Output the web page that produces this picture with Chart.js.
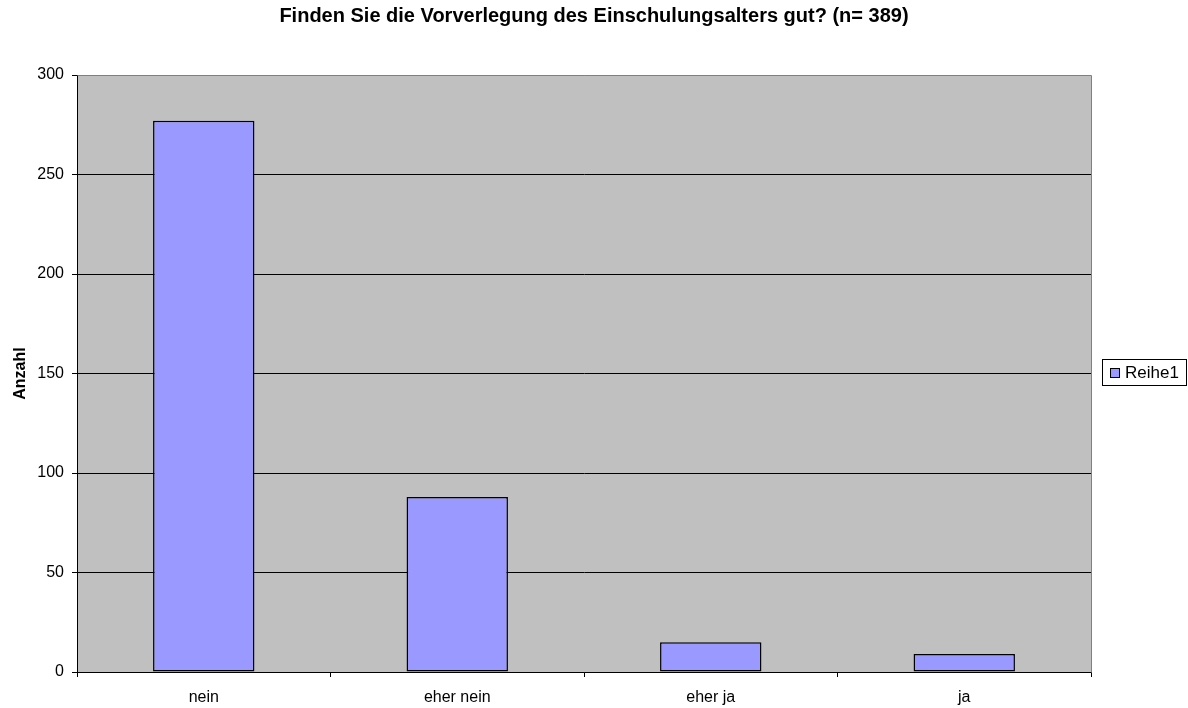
<!DOCTYPE html>
<html>
<head>
<meta charset="utf-8">
<script src="https://cdn.jsdelivr.net/npm/chart.js@4/dist/chart.umd.min.js"></script>
<style>
  html, body { margin: 0; padding: 0; background: #fff; }
  #wrap { width: 1188px; height: 708px; }
</style>
</head>
<body>
<div id="wrap"><canvas id="umfrageChart" width="1188" height="708"></canvas></div>
<script>
// Daten aus der Grafik
const kategorien = ['nein', 'eher nein', 'eher ja', 'ja'];
const anzahl = [277, 88, 15, 9];
const reiheName = 'Reihe1';
const yTicks = [0, 50, 100, 150, 200, 250, 300];

const schrift = "'Liberation Sans', Arial, sans-serif";

// Hintergrund der Zeichenfläche + grauer Rahmen oben/rechts
const plotFlaeche = {
  id: 'plotFlaeche',
  beforeDraw(chart) {
    const a = chart.chartArea;
    const ctx = chart.ctx;
    ctx.save();
    ctx.fillStyle = '#c0c0c0';
    ctx.fillRect(a.left, a.top, a.right - a.left, a.bottom - a.top);
    ctx.restore();
  },
  beforeDatasetsDraw(chart) {
    const a = chart.chartArea;
    const ctx = chart.ctx;
    ctx.save();
    ctx.strokeStyle = '#808080';
    ctx.lineWidth = 1;
    ctx.beginPath();
    ctx.moveTo(Math.round(a.left) + 0.5, Math.round(a.top) + 0.5);
    ctx.lineTo(Math.round(a.right) + 0.5, Math.round(a.top) + 0.5);
    ctx.lineTo(Math.round(a.right) + 0.5, Math.round(a.bottom) + 0.5);
    ctx.stroke();
    ctx.restore();
  }
};

// Legende im Excel-Stil (Kasten rechts)
const excelLegende = {
  id: 'excelLegende',
  afterDraw(chart) {
    const ds = chart.data.datasets[0];
    const ctx = chart.ctx;
    ctx.save();
    ctx.fillStyle = '#fff';
    ctx.strokeStyle = '#000';
    ctx.lineWidth = 1;
    ctx.fillRect(1102.5, 359.5, 84, 26);
    ctx.strokeRect(1102.5, 359.5, 84, 26);
    ctx.fillStyle = ds.backgroundColor;
    ctx.fillRect(1110.5, 368.5, 9, 9);
    ctx.strokeRect(1110.5, 368.5, 9, 9);
    ctx.fillStyle = '#000';
    ctx.font = '17px ' + schrift;
    ctx.textBaseline = 'middle';
    ctx.textAlign = 'left';
    ctx.fillText(ds.label, 1125, 373);
    ctx.restore();
  }
};

new Chart(document.getElementById('umfrageChart'), {
  type: 'bar',
  data: {
    labels: kategorien,
    datasets: [{
      label: reiheName,
      data: anzahl,
      backgroundColor: '#9999ff',
      borderColor: '#000',
      borderWidth: 1.5,
      borderSkipped: false,
      barPercentage: 0.4,
      categoryPercentage: 1.0
    }]
  },
  options: {
    responsive: false,
    animation: false,
    layout: { padding: 0 },
    plugins: {
      legend: { display: false },
      tooltip: { enabled: false },
      title: {
        display: true,
        text: 'Finden Sie die Vorverlegung des Einschulungsalters gut? (n= 389)',
        color: '#000',
        font: { family: schrift, size: 20, weight: 'bold', lineHeight: 1.2 },
        padding: { top: 4, bottom: 47 }
      }
    },
    scales: {
      x: {
        offset: true,
        grid: {
          offset: true,
          drawOnChartArea: false,
          drawTicks: true,
          tickLength: 5,
          tickColor: '#000'
        },
        border: { color: '#000', width: 1 },
        ticks: {
          color: '#000',
          font: { family: schrift, size: 16 },
          padding: 11,
          maxRotation: 0
        },
        afterFit(s) { s.height = 36; }
      },
      y: {
        min: 0,
        max: 300,
        afterBuildTicks(s) { s.ticks = yTicks.map(v => ({ value: v })); },
        grid: {
          color: (c) => (c.tick && c.tick.value === 300 ? '#808080' : '#000'),
          tickColor: '#000',
          tickLength: 5,
          lineWidth: 1
        },
        border: { color: '#000', width: 1 },
        ticks: {
          color: '#000',
          font: { family: schrift, size: 16 },
          padding: 8
        },
        title: {
          display: true,
          text: 'Anzahl',
          color: '#000',
          font: { family: schrift, size: 16, weight: 'bold' },
          padding: { top: 11, bottom: 0 }
        },
        afterFit(s) { s.width = 77; }
      },
      // leerer Platz rechts für die Legende
      rechts: {
        position: 'right',
        min: 0,
        max: 300,
        grid: { display: false },
        border: { display: false },
        ticks: { display: false },
        afterFit(s) { s.width = 97; }
      }
    }
  },
  plugins: [plotFlaeche, excelLegende]
});
</script>
</body>
</html>
